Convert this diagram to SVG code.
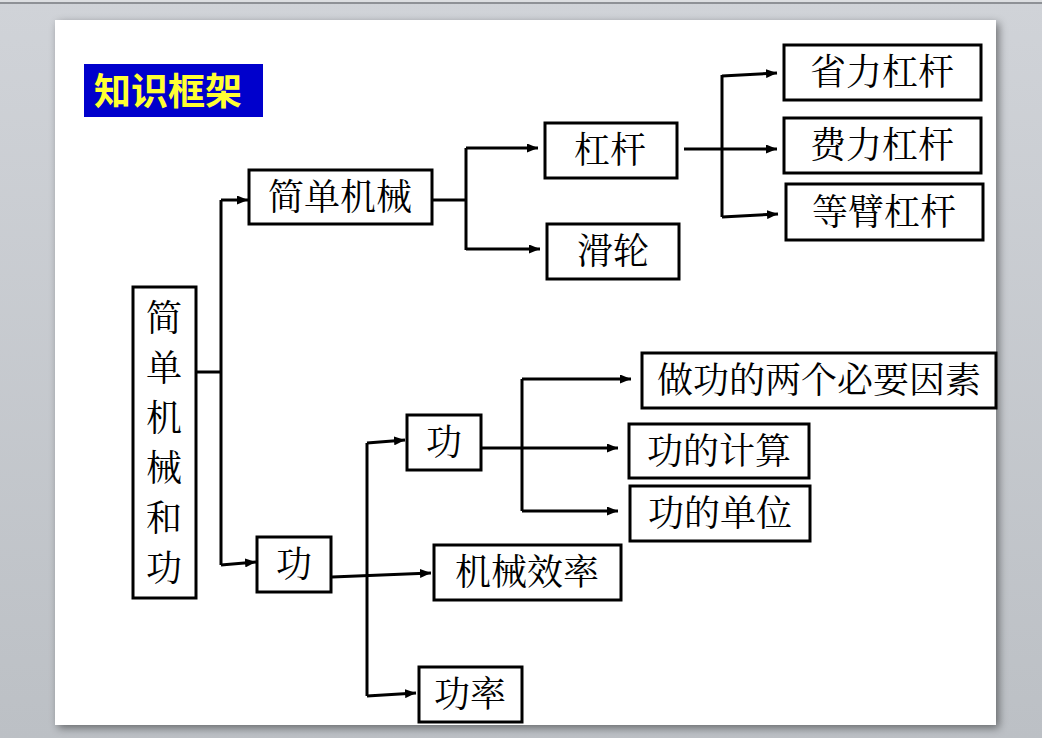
<svg xmlns="http://www.w3.org/2000/svg" width="1042" height="738" viewBox="0 0 1042 738">
<defs>
<linearGradient id="bg" x1="0" y1="0" x2="0" y2="1">
<stop offset="0" stop-color="#d0d3d8"/>
<stop offset="1" stop-color="#bcc0c5"/>
</linearGradient>
<filter id="shadow" x="-5%" y="-5%" width="110%" height="110%">
<feDropShadow dx="3" dy="3" stdDeviation="4" flood-color="#000" flood-opacity="0.45"/>
</filter>
<marker id="arr" markerUnits="userSpaceOnUse" markerWidth="11" markerHeight="9" refX="11" refY="4.5" orient="auto">
<path d="M0,0 L11,4.5 L0,9 z" fill="#000"/>
</marker>
<style>
.box{fill:#fff;stroke:#000;stroke-width:3}
.t{font-family:"Noto Serif CJK SC","Noto Sans CJK SC",serif;font-size:36px;fill:#000;text-anchor:middle}
.ln{fill:none;stroke:#000;stroke-width:3}
.ar{fill:none;stroke:#000;stroke-width:3;marker-end:url(#arr)}
</style>
</defs>
<rect x="0" y="0" width="1042" height="738" fill="url(#bg)"/>
<rect x="0" y="0" width="1042" height="2" fill="#dcdee1"/>
<rect x="0" y="2" width="1042" height="2" fill="#8e9196"/>
<rect x="55" y="20" width="941" height="705" fill="#fff" filter="url(#shadow)"/>

<g id="title">
<rect x="84" y="64" width="179" height="53" fill="#0000cc"/>
<text x="94" y="105" font-family="'Noto Sans CJK SC',sans-serif" font-size="37" font-weight="bold" fill="#ffff33">知识框架</text>
</g>

<g id="connectors">
<path class="ln" d="M196,372 H221 M221,200 V565"/>
<path class="ar" d="M221,200 H248"/>
<path class="ar" d="M221,565 L256,562"/>
<path class="ln" d="M433,200 H466 M466,148 V250"/>
<path class="ar" d="M466,148 H538"/>
<path class="ar" d="M466,249 H540"/>
<path class="ar" d="M684,149 H777"/>
<path class="ln" d="M722,75 V217"/>
<path class="ar" d="M722,76 L777,73"/>
<path class="ar" d="M722,217 L778,214"/>
<path class="ar" d="M332,577 L431,573"/>
<path class="ln" d="M367,443 V696"/>
<path class="ar" d="M367,443 L405,440"/>
<path class="ar" d="M367,696 L416,693"/>
<path class="ar" d="M482,448 H618"/>
<path class="ln" d="M522,379 V511"/>
<path class="ar" d="M522,379 H631"/>
<path class="ar" d="M522,511 H618"/>
</g>

<g id="root">
<rect class="box" x="133" y="287" width="63" height="311"/>
<text class="t" x="164"><tspan x="164" y="331">简</tspan><tspan x="164" y="381">单</tspan><tspan x="164" y="431">机</tspan><tspan x="164" y="481">械</tspan><tspan x="164" y="531">和</tspan><tspan x="164" y="581">功</tspan></text>
</g>
<g id="jiandanjixie"><rect class="box" x="249" y="170" width="183" height="54"/><text class="t" x="340" y="210">简单机械</text></g>
<g id="gangan"><rect class="box" x="545" y="123" width="132" height="55"/><text class="t" x="610" y="163">杠杆</text></g>
<g id="hualun"><rect class="box" x="547" y="224" width="132" height="55"/><text class="t" x="613" y="264">滑轮</text></g>
<g id="shengli"><rect class="box" x="784" y="45" width="197" height="55"/><text class="t" x="882" y="85">省力杠杆</text></g>
<g id="feili"><rect class="box" x="784" y="118" width="197" height="55"/><text class="t" x="882" y="158">费力杠杆</text></g>
<g id="dengbi"><rect class="box" x="786" y="184" width="197" height="56"/><text class="t" x="884" y="225">等臂杠杆</text></g>
<g id="gong1"><rect class="box" x="257" y="537" width="74" height="55"/><text class="t" x="294" y="577">功</text></g>
<g id="gong2"><rect class="box" x="407" y="415" width="74" height="55"/><text class="t" x="444" y="455">功</text></g>
<g id="zuogong"><rect class="box" x="642" y="353" width="354" height="55"/><text class="t" x="819" y="393">做功的两个必要因素</text></g>
<g id="gongjisuan"><rect class="box" x="629" y="424" width="180" height="54"/><text class="t" x="719" y="464">功的计算</text></g>
<g id="gongdanwei"><rect class="box" x="630" y="486" width="180" height="55"/><text class="t" x="720" y="526">功的单位</text></g>
<g id="xiaolv"><rect class="box" x="434" y="545" width="187" height="55"/><text class="t" x="527" y="585">机械效率</text></g>
<g id="gonglv"><rect class="box" x="419" y="667" width="103" height="55"/><text class="t" x="470" y="707">功率</text></g>
</svg>
